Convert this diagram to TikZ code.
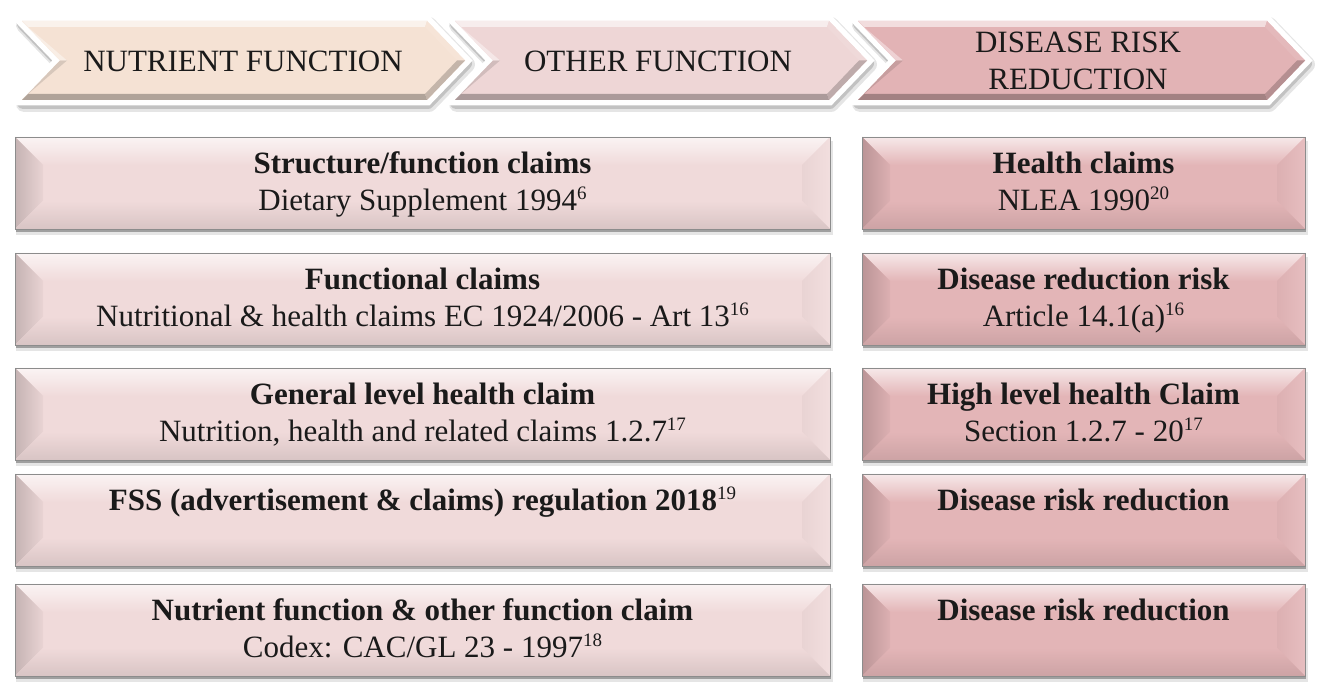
\documentclass[tikz,border=0pt]{standalone}
\usepackage{fontspec}
\setmainfont{Liberation Serif}
\usetikzlibrary{calc}
\definecolor{chA}{HTML}{F5E2D4}
\definecolor{chB}{HTML}{EED6D6}
\definecolor{chC}{HTML}{E2B3B5}
\definecolor{bxL}{HTML}{F0DADA}
\definecolor{bxR}{HTML}{E3B5B7}
\definecolor{txt}{HTML}{1A1A1A}
\newcommand\sups[1]{\raisebox{11pt}{\mdseries\fontsize{19}{19}\selectfont #1}}
% bevelled box: x1 y1(bottom) x2 y2(top) colour
\newcommand\bevbox[5]{%
  \fill[black,opacity=0.10] (#1+1,#2-6) rectangle (#3+3,#4-4);
  \fill[black,opacity=0.30] (#1+1,#2-3) rectangle (#3+1,#4-3);
  \fill[#5] (#1,#2) rectangle (#3,#4);
  \shade[top color=white!70!#5, bottom color=#5] (#1,#4) -- (#3,#4) -- (#3-28,#4-28) -- (#1+28,#4-28) -- cycle;
  \shade[left color=#5!82!black, right color=#5!97!black] (#1,#4) -- (#1+28,#4-28) -- (#1+28,#2+28) -- (#1,#2) -- cycle;
  \shade[left color=#5!97!black, right color=#5!88!white] (#3,#4) -- (#3-28,#4-28) -- (#3-28,#2+28) -- (#3,#2) -- cycle;
  \shade[top color=#5, bottom color=#5!90!black] (#1,#2) -- (#3,#2) -- (#3-28,#2+28) -- (#1+28,#2+28) -- cycle;
  \draw[black!45, line width=0.8] (#1,#2) rectangle (#3,#4);
}
% chevron: L R colour ; T=664 B=585 M=624.5 d=38
\newcommand\chevpath[2]{(#1,664) -- (#2-38,664) -- (#2,624.5) -- (#2-38,585) -- (#1,585) -- (#1+38,624.5) -- cycle}
\newcommand\chevshadow[2]{%
  \filldraw[black, opacity=0.10, line width=16, line join=round] ([shift={(2,-4)}]#1,664) -- ([shift={(2,-4)}]#2-38,664) -- ([shift={(2,-4)}]#2,624.5) -- ([shift={(2,-4)}]#2-38,585) -- ([shift={(2,-4)}]#1,585) -- ([shift={(2,-4)}]#1+38,624.5) -- cycle;
  \filldraw[black, opacity=0.15, line width=12, line join=round] ([shift={(1,-3)}]#1,664) -- ([shift={(1,-3)}]#2-38,664) -- ([shift={(1,-3)}]#2,624.5) -- ([shift={(1,-3)}]#2-38,585) -- ([shift={(1,-3)}]#1,585) -- ([shift={(1,-3)}]#1+38,624.5) -- cycle;
}
\newcommand\chevbody[3]{%
  \filldraw[white, line width=11, line join=miter] \chevpath{#1}{#2};
  \fill[#3] \chevpath{#1}{#2};
  % bevel strips
  \fill[white!55!#3] (#1,664) -- (#2-38,664) -- (#2-40,658) -- (#1+6,658) -- cycle;
  \fill[#3!92!white] (#2-38,664) -- (#2,624.5) -- (#2-8,624.5) -- (#2-40,658) -- cycle;
  \fill[#3!80!black] (#2,624.5) -- (#2-38,585) -- (#2-40,591) -- (#2-8,624.5) -- cycle;
  \fill[#3!72!black] (#2-38,585) -- (#1,585) -- (#1+6,591) -- (#2-40,591) -- cycle;
  \fill[#3!88!black] (#1,585) -- (#1+38,624.5) -- (#1+45,624.5) -- (#1+6,591) -- cycle;
  \fill[white!40!#3] (#1+38,624.5) -- (#1,664) -- (#1+6,658) -- (#1+45,624.5) -- cycle;
}
\tikzset{
  chtext/.style={anchor=base, inner sep=0pt, text=txt, font=\fontsize{31}{37}\selectfont},
  bxtitle/.style={anchor=base, inner sep=0pt, text=txt, font=\fontsize{31}{37}\selectfont\bfseries},
  bxsub/.style={anchor=base, inner sep=0pt, text=txt, font=\fontsize{31}{37}\selectfont},
}
\begin{document}
\begin{tikzpicture}[x=1pt,y=1pt]
\fill[white] (0,0) rectangle (1325,685);
\useasboundingbox (0,0) rectangle (1325,685);
% chevrons
\chevshadow{22}{465}
\chevshadow{455}{867}
\chevshadow{858}{1305}
\chevbody{22}{465}{chA}
\chevbody{455}{867}{chB}
\chevbody{858}{1305}{chC}
\node[chtext] (c1) at (243,613) {NUTRIENT FUNCTION};
\node[chtext] (c2) at (658,613) {OTHER FUNCTION};
\node[chtext] (c3a) at (1078,632) {DISEASE RISK};
\node[chtext] (c3b) at (1078,595) {REDUCTION};
% boxes
\bevbox{15}{456}{830}{548}{bxL}
\bevbox{15}{340}{830}{432}{bxL}
\bevbox{15}{225}{830}{317}{bxL}
\bevbox{15}{119}{830}{211}{bxL}
\bevbox{15}{9}{830}{101}{bxL}
\bevbox{862}{456}{1305}{548}{bxR}
\bevbox{862}{340}{1305}{432}{bxR}
\bevbox{862}{225}{1305}{317}{bxR}
\bevbox{862}{119}{1305}{211}{bxR}
\bevbox{862}{9}{1305}{101}{bxR}
% left texts
\node[bxtitle] (l1t) at (422.5,511) {Structure/function claims};
\node[bxsub]   (l1s) at (422.5,474) {Dietary Supplement 1994\sups{6}};
\node[bxtitle] (l2t) at (422.5,395) {Functional claims};
\node[bxsub]   (l2s) at (422.5,358) {Nutritional \& health claims EC 1924/2006 - Art 13\sups{16}};
\node[bxtitle] (l3t) at (422.5,280) {General level health claim};
\node[bxsub]   (l3s) at (422.5,243) {Nutrition, health and related claims 1.2.7\sups{17}};
\node[bxtitle] (l4t) at (422.5,174) {FSS (advertisement \& claims) regulation 2018\sups{19}};
\node[bxtitle] (l5t) at (422.5,64) {Nutrient function \& other function claim};
\node[bxsub]   (l5s) at (422.5,27) {Codex: CAC/GL 23 - 1997\sups{18}};
% right texts
\node[bxtitle] (r1t) at (1083.5,511) {Health claims};
\node[bxsub]   (r1s) at (1083.5,474) {NLEA 1990\sups{20}};
\node[bxtitle] (r2t) at (1083.5,395) {Disease reduction risk};
\node[bxsub]   (r2s) at (1083.5,358) {Article 14.1(a)\sups{16}};
\node[bxtitle] (r3t) at (1083.5,280) {High level health Claim};
\node[bxsub]   (r3s) at (1083.5,243) {Section 1.2.7 - 20\sups{17}};
\node[bxtitle] (r4t) at (1083.5,174) {Disease risk reduction};
\node[bxtitle] (r5t) at (1083.5,64) {Disease risk reduction};
\end{tikzpicture}
\end{document}
